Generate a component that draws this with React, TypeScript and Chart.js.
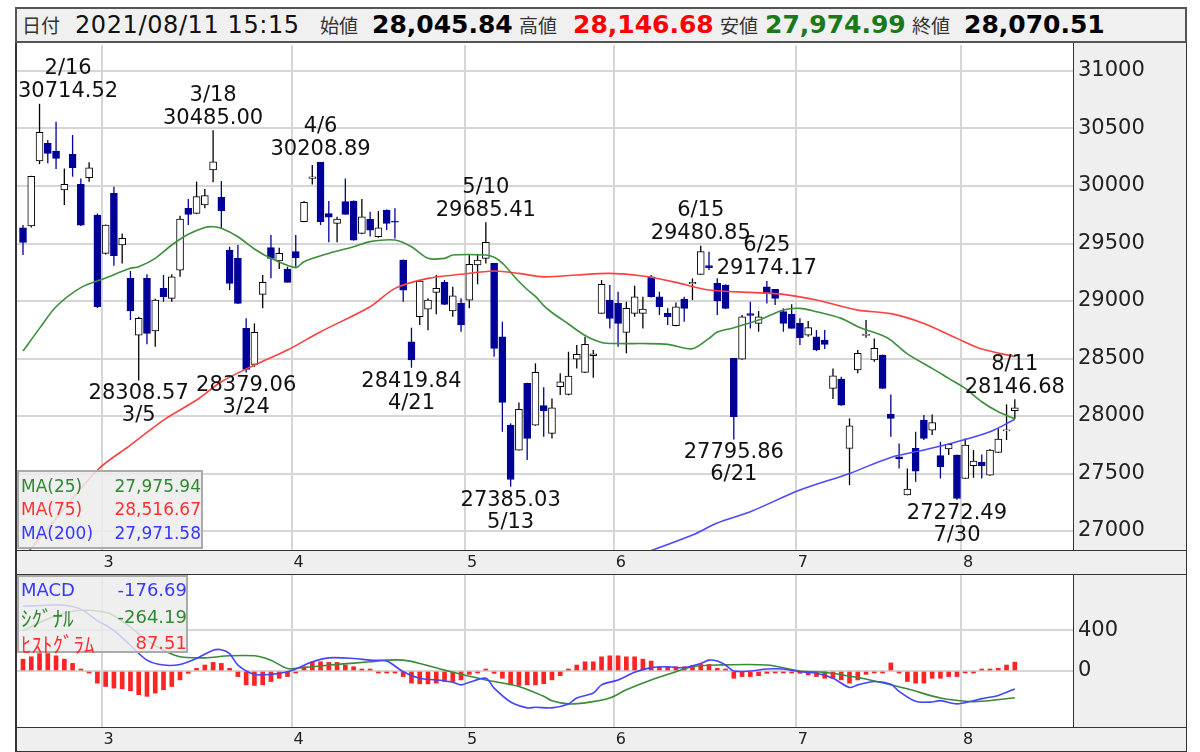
import React, { useEffect, useRef } from "react";
import { Chart, registerables } from "chart.js";

Chart.register(...registerables);
Chart.defaults.font.family = "DejaVu Sans";

// ---------------- data ----------------
const tradingDays = [
  "2/12","2/15","2/16","2/17","2/18","2/19","2/22","2/24","2/25","2/26",
  "3/1","3/2","3/3","3/4","3/5","3/8","3/9","3/10","3/11","3/12","3/15","3/16","3/17","3/18","3/19","3/22","3/23","3/24","3/25","3/26","3/29","3/30","3/31",
  "4/1","4/2","4/5","4/6","4/7","4/8","4/9","4/12","4/13","4/14","4/15","4/16","4/19","4/20","4/21","4/22","4/23","4/26","4/27","4/28","4/30",
  "5/6","5/7","5/10","5/11","5/12","5/13","5/14","5/17","5/18","5/19","5/20","5/21","5/24","5/25","5/26","5/27","5/28","5/31",
  "6/1","6/2","6/3","6/4","6/7","6/8","6/9","6/10","6/11","6/14","6/15","6/16","6/17","6/18","6/21","6/22","6/23","6/24","6/25","6/28","6/29","6/30",
  "7/1","7/2","7/5","7/6","7/7","7/8","7/9","7/12","7/13","7/14","7/15","7/16","7/19","7/20","7/21","7/26","7/27","7/28","7/29","7/30",
  "8/2","8/3","8/4","8/5","8/6","8/10","8/11",
];

const openP = [
  29637, 29652, 30217, 30371, 30304, 29965, 30275, 30014, 30072, 29748,
  29414, 29936, 29487, 29197, 28704, 29197, 28739, 29110, 29023, 29269,
  29806, 29762, 29835, 30139, 29901, 29443, 29371, 28762, 28449, 29058,
  29464, 29348, 29278, 29429, 29690, 30065, 30208.89, 29760, 29675, 29864,
  29869, 29588, 29713, 29559, 29791, 29695, 29356, 28646, 28863, 28930,
  29075, 29162, 28913, 28979, 29008, 29313, 29371, 29327, 28689, 27921,
  27704, 28284, 27921, 28090, 27849, 28255, 28188, 28495, 28379, 28525,
  28892, 29008, 28979, 28727, 28892, 28892, 29211, 29037, 28892, 28785,
  29017, 29150, 29232, 29307, 29153, 29139, 28501, 28495, 28890, 28805,
  29124, 29101, 28907, 28884, 28805, 28704, 28689, 28660, 28240, 28321,
  27718, 28400, 28700, 28487, 28530, 28014, 27646, 27313, 27718, 27965,
  27878, 27655, 27713, 27660, 27457, 27568, 27597, 27486, 27684, 27870,
  28045.84,
];
const highP = [
  29660, 30090, 30714.52, 30400, 30559, 30153, 30443, 30066, 30206, 29760,
  29665, 29994, 29588, 29261, 28864, 29232, 29020, 29226, 29232, 29742,
  29887, 30038, 29974, 30485, 30043, 29472, 29487, 28849, 28805, 29226,
  29574, 29464, 29298, 29574, 29869, 30182, 30208.89, 29869, 29733, 30066,
  29875, 29887, 29777, 29782, 29795, 29806, 29360, 28768, 29180, 29023,
  29226, 29182, 29124, 29023, 29406, 29406, 29685.41, 29330, 28820, 27936,
  28118, 28290, 28458, 28250, 28153, 28371, 28559, 28617, 28689, 28573,
  29182, 29139, 29081, 28994, 29133, 29037, 29226, 29081, 28936, 28988,
  29037, 29197, 29480.85, 29429, 29197, 29145, 28505, 28878, 28994, 28913,
  29174.17, 29105, 28936, 28971, 28849, 28826, 28747, 28747, 28414, 28342,
  27979, 28573, 28834, 28675, 28535, 28188, 27762, 27544, 27863, 28008,
  28014, 27776, 27762, 27665, 27805, 27704, 27666, 27713, 27892, 28101,
  28146.68,
];
const lowP = [
  29400, 29640, 30190, 30197, 30148, 29835, 30081, 29652, 30037, 28940,
  29405, 29307, 29327, 28834, 28308.57, 28623, 28603, 28994, 28994, 29211,
  29661, 29755, 29806, 30032, 29626, 29095, 28975, 28379.06, 28429, 28936,
  29197, 29278, 29160, 29298, 29685, 30014, 29661, 29510, 29510, 29750,
  29525, 29580, 29560, 29550, 29617, 29544, 28994, 28419.84, 28791, 28746,
  28884, 28965, 28863, 28733, 28936, 29145, 29327, 28515, 27863, 27385.03,
  27700, 27617, 27915, 27820, 27805, 28182, 28180, 28414, 28375, 28333,
  28890, 28762, 28603, 28545, 28863, 28762, 29030, 28878, 28791, 28780,
  28820, 29008, 29228, 29269, 28878, 28930, 27795.86, 28490, 28762, 28733,
  28979, 28965, 28733, 28760, 28617, 28689, 28565, 28582, 28147, 28090,
  27399, 28371, 28681, 28472, 28235, 27820, 27544, 27310, 27428, 27791,
  27834, 27457, 27660, 27272.49, 27455, 27463, 27457, 27480, 27680, 27791,
  27974.99,
];
const closeP = [
  29510, 30084, 30467, 30284, 30240, 30014, 30159, 29660, 30159, 28950,
  29661, 29394, 29545, 28913, 28849, 28718, 29008, 29037, 29211, 29713,
  29753, 29907, 29916, 30211, 29785, 29153, 28979, 28405, 28727, 29162,
  29371, 29414, 29162, 29377, 29858, 30080, 29690, 29730, 29713, 29753,
  29530, 29733, 29617, 29637, 29675, 29685, 29095, 28487, 29174, 29008,
  29110, 28971, 29046, 28791, 29319, 29356, 29510, 28588, 28118, 27448,
  28058, 27805, 28379, 28044, 28072, 28298, 28347, 28536, 28623, 28540,
  29145, 28849, 28805, 28936, 29037, 28930, 29037, 28950, 28863, 28950,
  28936, 29162, 29429, 29290, 29000, 28936, 27994, 28863, 28875, 28863,
  29066, 29023, 28805, 28762, 28681, 28768, 28574, 28623, 28350, 28095,
  27915, 28545, 28712, 28588, 28240, 27979, 27626, 27365, 27521, 27805,
  27942, 27559, 27753, 27283, 27747, 27608, 27568, 27704, 27800, 27880,
  28070.51,
];

const ma25Idx = [0,2,4,7,10,13,14,16,18,20,22,23,24,26,28,30,33,34,37,40,42,45,47,49,51,52,56,57,58,59,60,61,62,63,64,66,68,70,72,75,78,81,83,84,86,89,92,94,96,99,101,104,105,107,110,112,114,116,118,120];
const ma25Val = [28565,28762,28950,29116,29200,29284,29298,29371,29487,29580,29640,29646,29632,29559,29452,29371,29290,29342,29414,29472,29516,29530,29472,29371,29371,29400,29400,29380,29330,29250,29170,29100,29040,28960,28900,28800,28700,28640,28630,28630,28623,28585,28675,28730,28768,28834,28921,28936,28907,28849,28777,28700,28660,28540,28414,28327,28240,28124,28037,27976];
const ma75Idx = [0,1,9,13,17,21,24,28,32,36,42,45,49,53,57,60,63,67,71,75,79,83,88,92,96,101,105,109,113,116,120];
const ma75Val = [26780,26849,27530,27747,27965,28139,28298,28443,28574,28733,28950,29110,29197,29232,29261,29240,29210,29226,29240,29217,29162,29095,29075,29058,29008,28921,28890,28805,28675,28582,28517];
const ma200Idx = [75,76,81,84,88,94,100,105,109,113,117,120];
const ma200Val = [26800,26830,26965,27070,27168,27356,27501,27640,27704,27776,27863,27972];

const histVals = [
  117,140,172,172,150,117,75,10,-5,-120,
  -153,-169,-176,-195,-234,-250,-218,-185,-153,-88,
  -23,26,59,85,75,26,-55,-137,-143,-137,
  -104,-72,-55,-13,42,91,91,85,85,59,
  42,20,5,-7,-7,-7,-55,-120,-127,-127,
  -120,-104,-104,-88,-33,-4,20,-23,-72,-137,
  -143,-137,-137,-125,-88,-46,5,59,91,91,
  140,150,150,140,140,117,98,42,42,42,
  42,52,65,65,26,20,-72,-55,-55,-46,
  -23,-13,-13,-13,-23,-39,-55,-72,-72,-88,
  -120,-88,-33,-13,-13,80,-20,-104,-120,-120,
  -72,-72,-55,-55,-13,-5,10,20,26,59,
  87.51,
];
const macdIdx = [0,3,5,7,9,11,13,15,17,19,21,23,24,25,26,28,30,32,33,35,37,40,42,44,46,48,50,52,53,54,56,57,59,61,62,64,66,67,69,70,72,74,76,78,80,82,83,84,85,86,88,90,92,94,96,98,100,101,103,105,106,108,110,111,113,115,116,118,120];
const macdVal = [640,650,650,611,498,400,254,107,59,65,124,205,210,172,59,-33,-33,-7,20,91,130,124,107,98,-7,-72,-88,-111,-137,-111,-72,-169,-306,-364,-358,-364,-325,-267,-218,-137,-88,-13,33,42,33,75,107,98,59,0,0,20,20,-7,-23,-72,-163,-137,-104,-130,-202,-299,-306,-293,-325,-293,-273,-241,-177];
const sigIdx = [0,3,6,8,10,11,13,15,17,19,22,25,28,30,32,34,38,42,44,46,48,52,56,60,63,64,66,68,71,73,76,79,81,84,90,94,97,101,103,107,111,114,116,120];
const sigVal = [400,514,590,600,580,546,433,302,205,140,130,150,150,107,25,35,65,91,107,107,75,-13,-88,-153,-250,-293,-325,-315,-267,-185,-88,-7,42,59,59,0,-13,-65,-98,-176,-267,-299,-299,-264];

const priceTicks = [27000, 27500, 28000, 28500, 29000, 29500, 30000, 30500, 31000];
const macdTicks = [0, 400];
const monthLabels = ["3", "4", "5", "6", "7", "8"];

const annotDates = ["2/16", "3/18", "4/6", "5/10", "6/15", "6/25", "8/11", "3/5", "3/24", "4/21", "5/13", "6/21", "7/30"];
const annotKinds = ["H", "H", "H", "H", "H", "H", "H", "L", "L", "L", "L", "L", "L"];

const headerItems = [
  { label: "始値", value: "28,045.84", color: "#000000" },
  { label: "高値", value: "28,146.68", color: "#ff0000" },
  { label: "安値", value: "27,974.99", color: "#1a7a1a" },
  { label: "終値", value: "28,070.51", color: "#000000" },
];
const maLegend = [
  { name: "MA(25)", value: "27,975.94", color: "#2f8a2f" },
  { name: "MA(75)", value: "28,516.67", color: "#ff3030" },
  { name: "MA(200)", value: "27,971.58", color: "#3838ff" },
];
const macdLegend = [
  { name: "MACD", value: "-176.69", color: "#3838ff", kana: false },
  { name: "ｼｸﾞﾅﾙ", value: "-264.19", color: "#2f8a2f", kana: true },
  { name: "ﾋｽﾄｸﾞﾗﾑ", value: "87.51", color: "#ff3030", kana: true },
];

// ---------------- styling / layout ----------------
const NAVY = "#000099";
const X_MIN = -0.726;
const X_MAX = 127.04;
const PRICE_MIN = 26835;
const PRICE_MAX = 31226;
const MACD_MIN = -553;
const MACD_MAX = 948;

const monthBounds: number[] = [];
tradingDays.forEach((d, i) => {
  if (i > 0 && d.split("/")[0] !== tradingDays[i - 1].split("/")[0]) monthBounds.push(i - 0.5);
});

const isUp = (i: number) => closeP[i] >= openP[i];

function xAxis(height: number) {
  return {
    type: "linear",
    min: X_MIN,
    max: X_MAX,
    offset: false,
    grid: { color: "#d6d6d6", lineWidth: 2, drawTicks: false, offset: false },
    border: { display: false },
    afterBuildTicks: (ax: any) => {
      ax.ticks = monthBounds.map((v) => ({ value: v }));
    },
    afterFit: (ax: any) => {
      ax.height = height;
      ax.paddingLeft = 0;
      ax.paddingRight = 0;
    },
    ticks: {
      autoSkip: false,
      maxRotation: 0,
      minRotation: 0,
      padding: 3,
      labelOffset: 7,
      color: "#222",
      font: { family: "DejaVu Sans", size: 16 },
      callback: (_v: any, idx: number) => monthLabels[idx],
    },
  };
}

function yAxis(min: number, max: number, tickVals: number[]) {
  return {
    type: "linear",
    position: "right",
    min,
    max,
    grid: { color: "#d6d6d6", lineWidth: 2, drawTicks: false },
    border: { display: false },
    afterBuildTicks: (ax: any) => {
      ax.ticks = tickVals.map((v) => ({ value: v }));
    },
    afterFit: (ax: any) => {
      ax.width = 113;
      ax.paddingTop = 0;
      ax.paddingBottom = 0;
    },
    ticks: {
      padding: 5,
      color: "#222",
      font: { family: "DejaVu Sans", size: 21 },
      callback: (v: any) => String(v),
    },
  };
}

const hiLoPlugin = {
  id: "hiLoLabels",
  afterDatasetsDraw(chart: any) {
    const { ctx, chartArea, scales } = chart;
    ctx.save();
    ctx.font = '21px "DejaVu Sans"';
    ctx.fillStyle = "#111";
    ctx.textAlign = "center";
    ctx.textBaseline = "middle";
    annotDates.forEach((d, k) => {
      const i = tradingDays.indexOf(d);
      const high = annotKinds[k] === "H";
      const v = high ? highP[i] : lowP[i];
      const txt = v.toFixed(2);
      const x = scales.x.getPixelForValue(i);
      const y = scales.y.getPixelForValue(v);
      const half = Math.max(ctx.measureText(txt).width, ctx.measureText(d).width) / 2;
      const cx = Math.min(Math.max(x, chartArea.left + half + 1), chartArea.right - half - 1);
      if (high) {
        ctx.fillText(d, cx, y - 35);
        ctx.fillText(txt, cx, y - 12);
      } else {
        ctx.fillText(txt, cx, y + 13.5);
        ctx.fillText(d, cx, y + 35.5);
      }
    });
    ctx.restore();
  },
};

function lineSet(label: string, idx: number[], vals: number[], color: string, order: number) {
  return {
    type: "line",
    label,
    data: idx.map((x, k) => ({ x, y: vals[k] })),
    borderColor: color,
    borderWidth: 1.6,
    pointRadius: 0,
    tension: 0.3,
    fill: false,
    order,
  };
}

function priceConfig(): any {
  const n = tradingDays.length;
  const idx = Array.from({ length: n }, (_, i) => i);
  return {
    type: "bar",
    data: {
      datasets: [
        lineSet("MA(25)", ma25Idx, ma25Val, "#3c8f3c", 0),
        lineSet("MA(75)", ma75Idx, ma75Val, "#ff4040", 0),
        lineSet("MA(200)", ma200Idx, ma200Val, "#4a4aff", 0),
        {
          type: "bar",
          label: "body",
          data: idx.map((i) => ({ x: i, y: [openP[i], closeP[i]] })),
          backgroundColor: idx.map((i) => (isUp(i) ? "#ffffff" : NAVY)),
          borderColor: idx.map((i) => (isUp(i) ? "#000000" : NAVY)),
          borderWidth: 1,
          borderSkipped: false,
          barThickness: 7,
          grouped: false,
          minBarLength: 1,
          order: 1,
        },
        {
          type: "bar",
          label: "wick",
          data: idx.map((i) => ({ x: i, y: [lowP[i], highP[i]] })),
          backgroundColor: idx.map((i) => (isUp(i) ? "#000000" : NAVY)),
          borderWidth: 0,
          barThickness: 1.3,
          inflateAmount: 0,
          grouped: false,
          order: 2,
        },
      ],
    },
    options: {
      animation: false,
      responsive: false,
      maintainAspectRatio: false,
      layout: { padding: 0 },
      plugins: { legend: { display: false }, tooltip: { enabled: false } },
      scales: {
        x: xAxis(24),
        y: yAxis(PRICE_MIN, PRICE_MAX, priceTicks),
      },
    },
    plugins: [hiLoPlugin],
  };
}

function macdConfig(): any {
  const n = tradingDays.length;
  const idx = Array.from({ length: n }, (_, i) => i);
  return {
    type: "bar",
    data: {
      datasets: [
        lineSet("MACD", macdIdx, macdVal, "#4444ff", 0),
        lineSet("シグナル", sigIdx, sigVal, "#3a8a3a", 0),
        {
          type: "bar",
          label: "ヒストグラム",
          data: idx.map((i) => ({ x: i, y: histVals[i] })),
          backgroundColor: "#ff2424",
          borderWidth: 0,
          barThickness: 4,
          minBarLength: 2,
          grouped: false,
          order: 1,
        },
      ],
    },
    options: {
      animation: false,
      responsive: false,
      maintainAspectRatio: false,
      layout: { padding: 0 },
      plugins: { legend: { display: false }, tooltip: { enabled: false } },
      scales: {
        x: xAxis(25),
        y: yAxis(MACD_MIN, MACD_MAX, macdTicks),
      },
    },
  };
}

function ChartCanvas(props: { make: () => any; left: number; top: number; width: number; height: number }) {
  const ref = useRef<HTMLCanvasElement | null>(null);
  useEffect(() => {
    const chart = new Chart(ref.current as HTMLCanvasElement, props.make());
    return () => chart.destroy();
  }, []);
  return (
    <canvas
      ref={ref}
      width={props.width}
      height={props.height}
      style={{ position: "absolute", left: props.left, top: props.top, width: props.width, height: props.height }}
    />
  );
}

const abs = (l: number, t: number, w: number, h: number, extra: any = {}) => ({
  position: "absolute" as const,
  left: l,
  top: t,
  width: w,
  height: h,
  ...extra,
});

export default function App() {
  const jp = { fontFamily: '"Noto Sans CJK JP"', fontSize: 19, color: "#333", position: "absolute" as const, top: 0, lineHeight: "32px" };
  const num = { fontFamily: '"DejaVu Sans"', fontSize: 24, color: "#111", position: "absolute" as const, top: 0, lineHeight: "32px", letterSpacing: 0.6 };
  const val = { fontFamily: '"DejaVu Sans"', fontSize: 25, fontWeight: 700 as const, position: "absolute" as const, top: 0, lineHeight: "32px" };
  const labelLefts = [303, 502, 703, 895];
  const valueLefts = [355, 556, 748, 947];
  return (
    <div style={{ position: "fixed", left: 0, top: 0, width: 1200, height: 752, background: "#fff", overflow: "hidden" }}>
      {/* header */}
      <div
        style={abs(15, 7, 1172, 36, {
          boxSizing: "border-box",
          border: "2px solid #555",
          background: "#f0f0f0",
          whiteSpace: "nowrap",
        })}
      >
        <span style={{ ...jp, left: 5 }}>日付</span>
        <span style={{ ...num, left: 58 }}>2021/08/11 15:15</span>
        {headerItems.map((h, k) => (
          <React.Fragment key={h.label}>
            <span style={{ ...jp, left: labelLefts[k] }}>{h.label}</span>
            <span style={{ ...val, left: valueLefts[k], color: h.color }}>{h.value}</span>
          </React.Fragment>
        ))}
      </div>

      {/* frame and panel backgrounds */}
      <div style={abs(15, 43, 1172, 709, { boxSizing: "border-box", background: "#efefef", borderLeft: "2px solid #333", borderRight: "1px solid #333" })} />
      <div style={abs(17, 43, 1056, 507, { background: "#fff" })} />
      <div style={abs(17, 575, 1056, 152, { background: "#fff" })} />

      <ChartCanvas make={priceConfig} left={17} top={45} width={1169} height={529} />
      <ChartCanvas make={macdConfig} left={17} top={575} width={1169} height={177} />

      {/* frame lines */}
      <div style={abs(1073, 43, 1, 507, { background: "#333" })} />
      <div style={abs(15, 550, 1172, 1, { background: "#333" })} />
      <div style={abs(15, 574, 1172, 1, { background: "#333" })} />
      <div style={abs(1073, 574, 1, 153, { background: "#333" })} />
      <div style={abs(15, 727, 1172, 1, { background: "#333" })} />
      <div style={abs(15, 751, 1172, 1, { background: "#333" })} />

      {/* MA legend */}
      <div style={abs(17, 470, 186, 79, { boxSizing: "border-box", border: "2px solid #aaa", background: "rgba(236,236,236,0.85)" })}>
        {maLegend.map((r, k) => (
          <div
            key={r.name}
            style={abs(2, 3 + k * 23.3, 180, 23, {
              display: "flex",
              justifyContent: "space-between",
              alignItems: "center",
              color: r.color,
              fontFamily: '"DejaVu Sans"',
              fontSize: 17,
              lineHeight: "23px",
            })}
          >
            <span>{r.name}</span>
            <span>{r.value}</span>
          </div>
        ))}
      </div>

      {/* MACD legend */}
      <div style={abs(17, 575, 171, 78, { boxSizing: "border-box", border: "2px solid #aaa", background: "rgba(236,236,236,0.82)" })}>
        {macdLegend.map((r, k) => (
          <div
            key={r.name}
            style={abs(2, 0 + k * 26.5, 166, 26, {
              display: "flex",
              justifyContent: "space-between",
              alignItems: "center",
              color: r.color,
              lineHeight: "26px",
            })}
          >
            <span style={r.kana ? { fontFamily: '"Noto Sans CJK JP"', fontSize: 21 } : { fontFamily: '"DejaVu Sans"', fontSize: 18 }}>{r.name}</span>
            <span style={{ fontFamily: '"DejaVu Sans"', fontSize: 18 }}>{r.value}</span>
          </div>
        ))}
      </div>
    </div>
  );
}
